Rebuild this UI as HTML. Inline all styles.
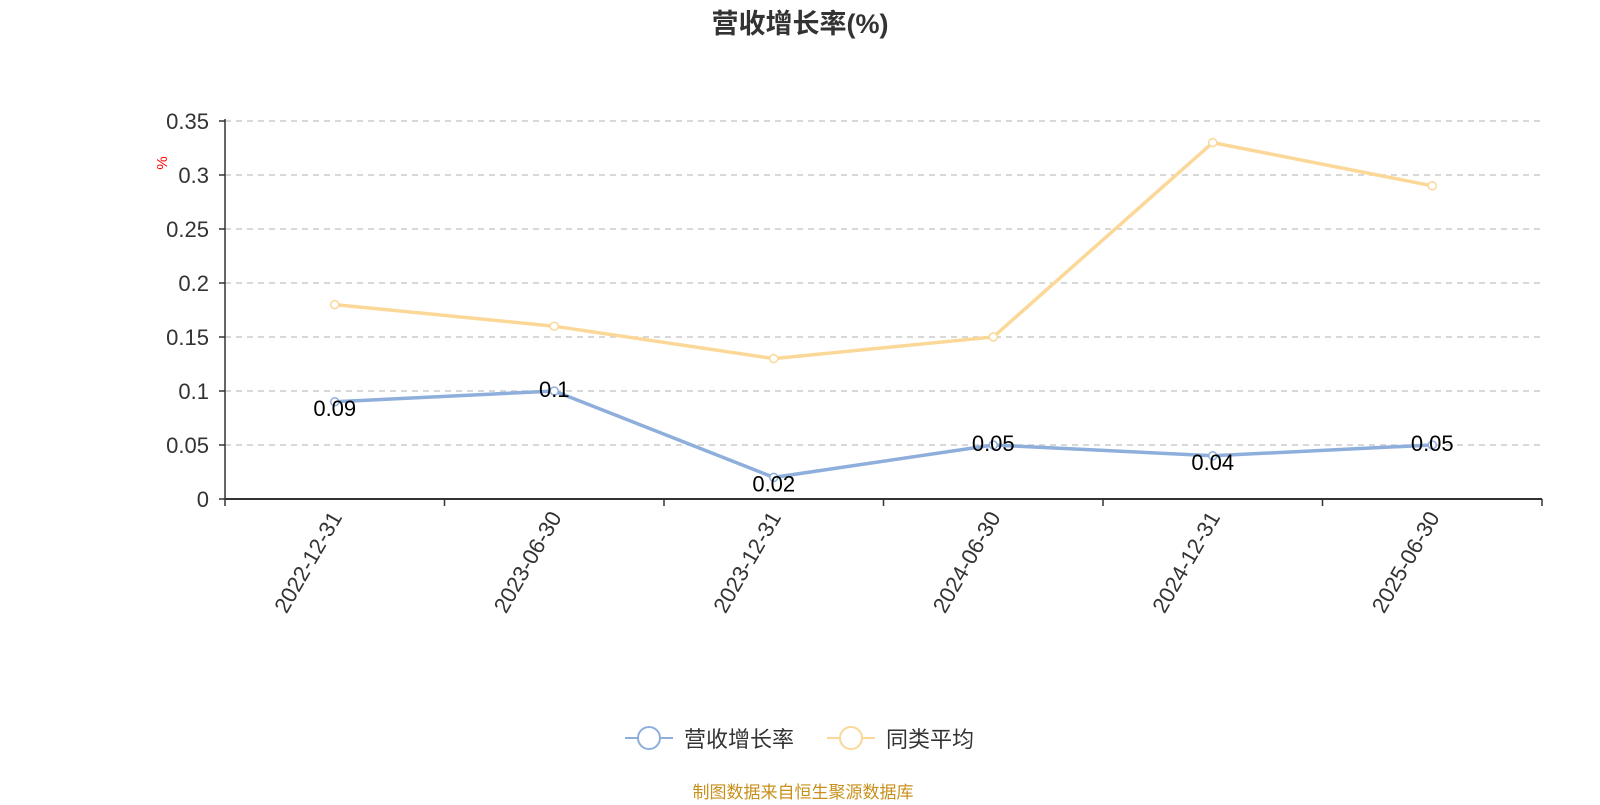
<!DOCTYPE html>
<html><head><meta charset="utf-8"><style>
body{margin:0;background:#fff;width:1600px;height:800px;overflow:hidden}
svg{font-family:"Liberation Sans","Noto Sans CJK SC",sans-serif}
</style></head><body>
<svg id="c" width="1600" height="800">
<text x="800" y="33" text-anchor="middle" font-size="27" font-weight="bold" fill="#333">营收增长率(%)</text>
<text x="0" y="0" transform="translate(167,163) rotate(-90)" text-anchor="middle" font-size="15" fill="red">%</text>
<g id="grid"></g><g id="axes"></g><g id="series"></g>
<g>
<g><line x1="625" y1="738" x2="673" y2="738" stroke="#8eaedb" stroke-width="2"/><circle cx="649" cy="738" r="11" fill="#fff" stroke="#8eaedb" stroke-width="2"/><text x="684" y="747" font-size="22" fill="#333">营收增长率</text></g>
<g><line x1="827" y1="738" x2="875" y2="738" stroke="#fbd898" stroke-width="2"/><circle cx="851" cy="738" r="11" fill="#fff" stroke="#fbd898" stroke-width="2"/><text x="886" y="747" font-size="22" fill="#333">同类平均</text></g>
</g>
<text x="803" y="798" text-anchor="middle" font-size="17" fill="#c8901c">制图数据来自恒生聚源数据库</text>
</svg>
<script>
const categories=["2022-12-31","2023-06-30","2023-12-31","2024-06-30","2024-12-31","2025-06-30"];
const revenueGrowth=[0.09,0.1,0.02,0.05,0.04,0.05];
const peerAverage=[0.18,0.16,0.13,0.15,0.33,0.29];
const yTicks=[0,0.05,0.1,0.15,0.2,0.25,0.3,0.35];
const yTickLabels=["0","0.05","0.1","0.15","0.2","0.25","0.3","0.35"];
const NS="http://www.w3.org/2000/svg";
const L=225,R=1542,T=121,B=499,yMax=0.35;
const bw=(R-L)/categories.length;
const x=i=>L+bw*(i+0.5);
const y=v=>B-(v/yMax)*(B-T);
function mk(p,tag,a){const e=document.createElementNS(NS,tag);for(const k in a)e.setAttribute(k,a[k]);p.appendChild(e);return e;}
const grid=document.getElementById('grid'),axes=document.getElementById('axes'),ser=document.getElementById('series');
yTicks.forEach((v,i)=>{
 if(v>0){const g=mk(grid,'line',{x1:L,x2:R,y1:y(v),y2:y(v),stroke:'#ccc','stroke-dasharray':'6,5','stroke-width':1.5});
 
 }
 const tk=mk(axes,'line',{x1:L-6,x2:L,y1:y(v),y2:y(v),stroke:'#333','stroke-width':1.5});
 
 
 const t=mk(axes,'text',{x:L-16,y:y(v)+8,'text-anchor':'end','font-size':22,fill:'#333'});
 t.textContent=yTickLabels[i];
 
 
});
const ya=mk(axes,'line',{x1:L,x2:L,y1:T-2,y2:B,stroke:'#333','stroke-width':1.5});


const xa=mk(axes,'line',{x1:L,x2:R,y1:B,y2:B,stroke:'#333','stroke-width':2});


for(let i=0;i<=categories.length;i++){
 const tk=mk(axes,'line',{x1:L+bw*i,x2:L+bw*i,y1:B,y2:B+7,stroke:'#333','stroke-width':1.5});
 
 
}
categories.forEach((c,i)=>{
 const t=mk(axes,'text',{transform:`translate(${x(i)+8},${B+18}) rotate(-60)`,'text-anchor':'end','font-size':22,fill:'#333'});
 t.textContent=c;
 
 
});
function line(vals,color,name,labels){
 const p=mk(ser,'polyline',{points:vals.map((v,i)=>x(i)+','+y(v)).join(' '),fill:'none',stroke:color,'stroke-width':3.5});
 
 
 vals.forEach((v,i)=>{
  const c=mk(ser,'circle',{cx:x(i),cy:y(v),r:4,fill:'#fff',stroke:color,'stroke-width':1.5});
  
  
  if(labels){const t=mk(ser,'text',{x:x(i),y:y(v)+(i%2==0?14:6),'text-anchor':'middle','font-size':22,fill:'#000'});
   t.textContent=String(v);
   
   }
 });
}
line(peerAverage,'#fbd898','peer-average',false);
line(revenueGrowth,'#8eaedb','revenue-growth',true);
</script>
</body></html>
